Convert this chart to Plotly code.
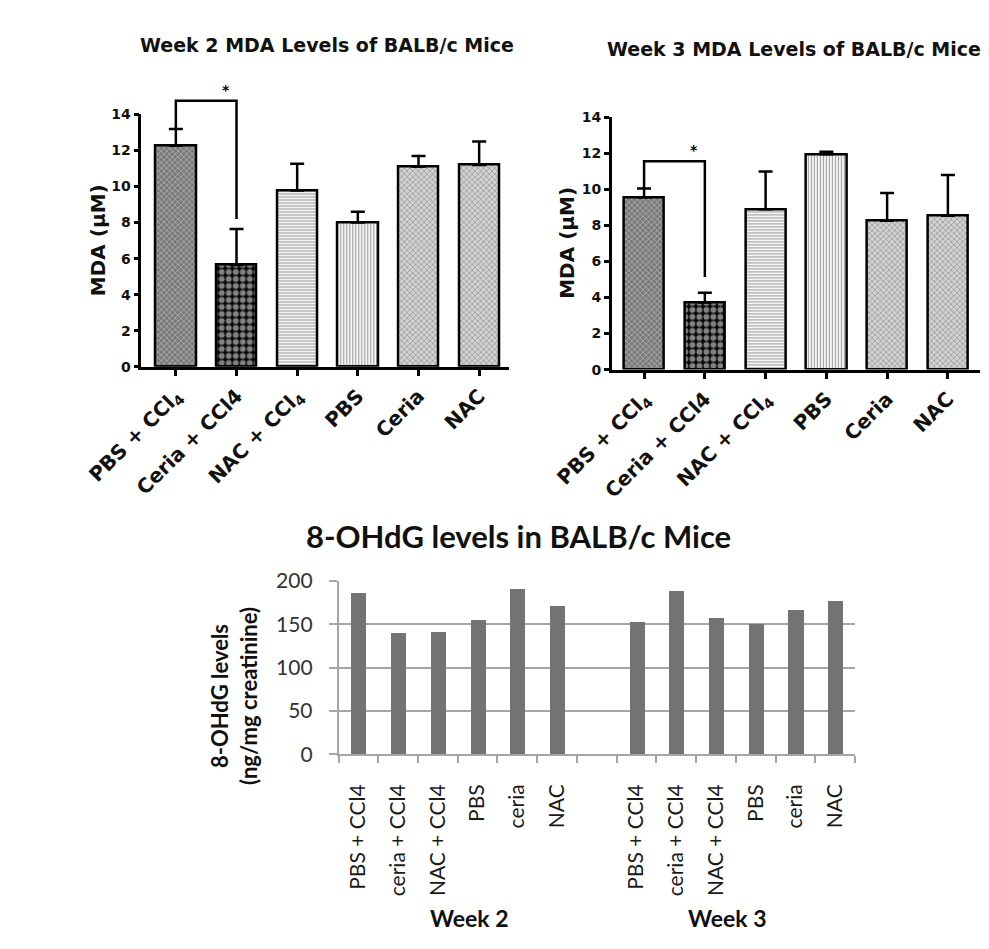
import plotly.graph_objects as go

W, H = 989, 949

# ---------------- data ----------------
mda_groups = ["PBS + CCl<sub>4</sub>", "Ceria + CCl4", "NAC + CCl<sub>4</sub>", "PBS", "Ceria", "NAC"]
mda_week2 = [12.27, 5.65, 9.78, 8.0, 11.1, 11.2]
mda_week2_sem = [0.93, 2.0, 1.49, 0.6, 0.6, 1.3]
mda_week3 = [9.57, 3.73, 8.9, 11.95, 8.27, 8.54]
mda_week3_sem = [0.48, 0.54, 2.1, 0.15, 1.53, 2.26]
bracket_week2 = [14.76, 8.2]   # bracket top, right leg end
bracket_week3 = [11.57, 5.14]
mda_ticks = [0, 2, 4, 6, 8, 10, 12, 14]

ohdg_treatments = ["PBS + CCl4", "ceria + CCl4", "NAC + CCl4", "PBS", "ceria", "NAC"]
ohdg_week2 = [185.7, 139.6, 140.7, 154.6, 190.6, 171.5]
ohdg_week3 = [153.0, 188.0, 157.5, 150.4, 166.0, 177.4]
weeks = ["Week 2", "Week 3"]
ohdg_ticks = [0, 50, 100, 150, 200]

# ---------------- styles ----------------
BOLDF = "DejaVu Sans, Liberation Sans, Arial, sans-serif"
CALIBRI = "Lato, Carlito, Calibri, sans-serif"
pat_shape = ["x", ".", "-", "|", "x", "x"]
pat_color = ["#7a7a7a", "#050505", "#f4f4f4", "#f4f4f4", "#d2d2d2", "#d2d2d2"]
pat_fg = ["#5c5c5c", "#ffffff", "#8c8c8c", "#8c8c8c", "#a8a8a8", "#a8a8a8"]
pat_size = [4, 7, 3, 3, 4, 4]
pat_sol = [0.3, 0.55, 0.35, 0.35, 0.3, 0.3]


def px_x(p):
    return p / W


def px_y(p):
    return 1 - p / H


fig = go.Figure()

idx = list(range(len(mda_groups)))


def mda_bars(vals, sem, xa, ya):
    fig.add_trace(go.Bar(
        x=idx, y=vals, xaxis=xa, yaxis=ya, width=0.665,
        marker=dict(
            color=pat_color,
            line=dict(color="black", width=2.5),
            pattern=dict(shape=pat_shape, fgcolor=pat_fg,
                         size=pat_size, solidity=pat_sol, fillmode="overlay"),
        ),
        error_y=dict(type="data", symmetric=False, array=sem,
                     arrayminus=[0] * len(sem), color="black",
                     thickness=2.5, width=7),
        showlegend=False, hoverinfo="skip",
    ))


mda_bars(mda_week2, mda_week2_sem, "x", "y")
mda_bars(mda_week3, mda_week3_sem, "x2", "y2")

# significance brackets (on invisible overlay subplots with the same scale)
for vals, sem, br, xa, ya in [(mda_week2, mda_week2_sem, bracket_week2, "x3", "y3"),
                              (mda_week3, mda_week3_sem, bracket_week3, "x4", "y4")]:
    fig.add_trace(go.Scatter(
        x=[0, 0, 1, 1], y=[vals[0] + sem[0], br[0], br[0], br[1]],
        xaxis=xa, yaxis=ya, mode="lines",
        line=dict(color="black", width=2.5), showlegend=False, hoverinfo="skip",
    ))
    fig.add_annotation(x=0.82, y=br[0] + 0.6, xref=xa, yref=ya, text="*",
                       showarrow=False, font=dict(family=BOLDF, size=14, color="black", weight="bold"))

# 8-OHdG bars
w2_pos = list(range(len(ohdg_treatments)))
w3_pos = [p + len(ohdg_treatments) + 1 for p in w2_pos]
fig.add_trace(go.Bar(
    x=w2_pos + w3_pos, y=ohdg_week2 + ohdg_week3, xaxis="x5", yaxis="y5",
    width=0.38, marker=dict(color="#737373", line=dict(width=0)),
    showlegend=False, hoverinfo="skip",
))

# ---------------- axes ----------------
unit2 = (354 - 95) / 14
unit3 = (357 - 98) / 14
top_range = 16

common_x = dict(showgrid=False, zeroline=False, showline=True, linecolor="black", linewidth=2.5,
                ticks="outside", ticklen=7, tickwidth=2.5, tickcolor="black",
                tickangle=-45, tickfont=dict(family=BOLDF, size=20, color="#111", weight="bold"),
                tickvals=idx, ticktext=mda_groups)
common_y = dict(showgrid=False, zeroline=False, showline=True, linecolor="black", linewidth=2.5,
                ticks="outside", ticklen=5, tickwidth=2.5, tickcolor="black",
                tickvals=mda_ticks, range=[0, 14],
                tickfont=dict(family=BOLDF, size=14, color="#111", weight="bold"))
hidden = dict(visible=False, showgrid=False, zeroline=False, fixedrange=True)

fig.update_layout(
    xaxis=dict(common_x, domain=[px_x(78), px_x(470)], range=[-0.57, 5.5], anchor="y"),
    yaxis=dict(common_y, domain=[px_y(354), px_y(95)], anchor="x"),
    xaxis2=dict(common_x, domain=[px_x(579), px_x(971)], range=[-0.53, 5.53], anchor="y2"),
    yaxis2=dict(common_y, domain=[px_y(357), px_y(98)], anchor="x2"),
    xaxis3=dict(hidden, domain=[px_x(78), px_x(470)], range=[-0.57, 5.5], anchor="y3"),
    yaxis3=dict(hidden, domain=[px_y(354), px_y(354 - top_range * unit2)], range=[0, top_range], anchor="x3"),
    xaxis4=dict(hidden, domain=[px_x(579), px_x(971)], range=[-0.53, 5.53], anchor="y4"),
    yaxis4=dict(hidden, domain=[px_y(357), px_y(357 - top_range * unit3)], range=[0, top_range], anchor="x4"),
    xaxis5=dict(domain=[px_x(288), px_x(838)], range=[-0.5, 12.5], anchor="y5",
                showgrid=False, zeroline=False, showline=True, linecolor="#a6a6a6", linewidth=1.5,
                tickvals=w2_pos + w3_pos, ticktext=ohdg_treatments + ohdg_treatments,
                ticks="", tickangle=-90, ticklabelstandoff=20,
                tickfont=dict(family=CALIBRI, size=21, color="#1a1a1a"),
                minor=dict(tickvals=[i - 0.5 for i in range(14)], ticks="outside",
                           ticklen=7, tickwidth=1.5, tickcolor="#a6a6a6", showgrid=False)),
    yaxis5=dict(domain=[px_y(752), px_y(574)], range=[0, 200], anchor="x5",
                tickvals=ohdg_ticks, showgrid=True, gridcolor="#a6a6a6", gridwidth=1.5,
                zeroline=False, showline=True, linecolor="#a6a6a6", linewidth=1.5,
                ticks="outside", ticklen=8, tickwidth=1.5, tickcolor="#a6a6a6",
                ticklabelstandoff=12,
                tickfont=dict(family=CALIBRI, size=21, color="#333333")),
    width=W, height=H, margin=dict(l=0, r=0, t=0, b=0),
    paper_bgcolor="white", plot_bgcolor="rgba(0,0,0,0)",
    bargap=0,
)

# ---------------- titles ----------------
ann = [
    dict(text="Week 2 MDA Levels of BALB/c Mice", x=px_x(276), y=px_y(24),
         font=dict(family=BOLDF, size=19, color="#111", weight="bold")),
    dict(text="Week 3 MDA Levels of BALB/c Mice", x=px_x(773), y=px_y(28),
         font=dict(family=BOLDF, size=19, color="#111", weight="bold")),
    dict(text="MDA (µM)", x=px_x(32), y=px_y(224), textangle=-90,
         font=dict(family=BOLDF, size=20, color="#111", weight="bold")),
    dict(text="MDA (µM)", x=px_x(531), y=px_y(227), textangle=-90,
         font=dict(family=BOLDF, size=20, color="#111", weight="bold")),
    dict(text="8-OHdG levels in BALB/c Mice", x=px_x(480), y=px_y(528),
         font=dict(family=CALIBRI, size=31, color="#111", weight="bold")),
    dict(text="8-OHdG levels<br>(ng/mg creatinine)", x=px_x(177), y=px_y(692), textangle=-90,
         font=dict(family=CALIBRI, size=22, color="#111", weight="bold")),
]
for a in ann:
    fig.add_annotation(xref="paper", yref="paper", showarrow=False,
                       xanchor="center", yanchor="middle", **a)

week_centers = [sum(w2_pos + [len(w2_pos)]) / (len(w2_pos) + 1), sum(w3_pos) / len(w3_pos)]
for wk, c in zip(weeks, week_centers):
    fig.add_annotation(x=c, y=px_y(937), xref="x5", yref="paper", text=wk, showarrow=False,
                       xshift=-8,
                       font=dict(family=CALIBRI, size=23, color="#111", weight="bold"))

fig.write_html("out.html")
